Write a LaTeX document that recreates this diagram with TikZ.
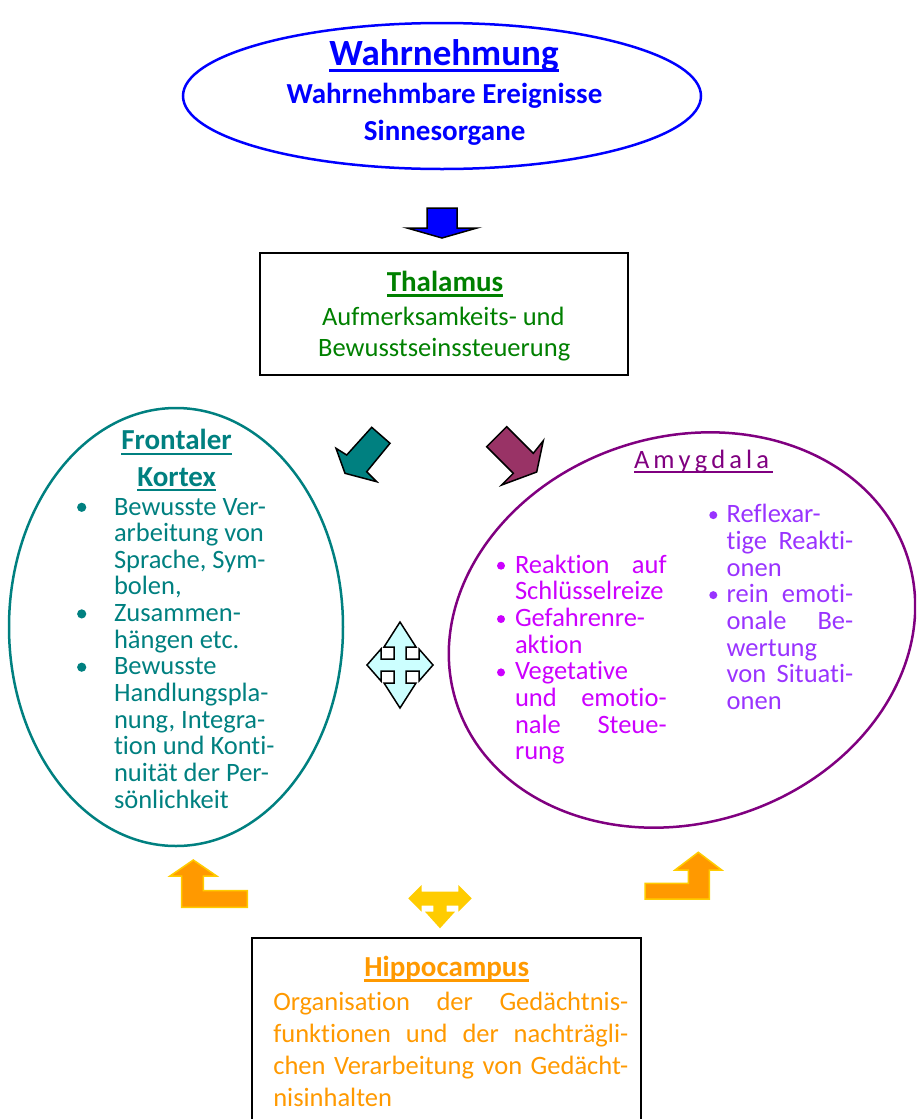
\documentclass[tikz,border=0pt]{standalone}
\usepackage{fontspec}
\setmainfont{Carlito}[Ligatures={NoCommon}]
\usetikzlibrary{shapes.geometric}
\definecolor{tealc}{RGB}{0,128,128}
\definecolor{purpc}{RGB}{128,0,128}
\definecolor{magc}{RGB}{204,0,255}
\definecolor{violc}{RGB}{153,51,255}
\definecolor{orangec}{RGB}{255,153,0}
\definecolor{goldc}{RGB}{255,204,0}
\definecolor{greenc}{RGB}{0,128,0}
\definecolor{bluec}{RGB}{0,0,255}
\definecolor{plumc}{RGB}{153,51,102}
\definecolor{cyanc}{RGB}{204,255,255}
\newcommand\ulx[3]{\setbox0\hbox{#3}\rlap{\rule[-#1]{\wd0}{#2}}\box0}
\newcommand\spc{\kern4.1pt}
\hbadness=10000
\begin{document}
\begin{tikzpicture}[x=1pt,y=-1pt,
  every node/.style={inner sep=0pt,outer sep=0pt},
  bodyfont/.style={font=\fontsize{26.5pt}{30pt}\selectfont},
  headtext/.style={anchor=base,font=\fontsize{29pt}{32pt}\selectfont\bfseries},
  linetext/.style={anchor=base west,bodyfont},
  blockarrow/.style={draw=black,line width=1.5pt,line join=miter},
  orangearrow/.style={draw=goldc,fill=orangec,line width=1.5pt,line join=miter}]
\useasboundingbox (0,0) rectangle (916,1119);
\clip (0,0) rectangle (916,1119);

% --- Wahrnehmung ---
\node[draw=bluec,line width=2.5pt,ellipse,minimum width=518pt,minimum height=146pt] (wahr) at (442,96) {};
\node[anchor=base,text=bluec,font=\fontsize{37pt}{40pt}\selectfont\bfseries] (wahrT) at (444,65) {\ulx{6.5pt}{3pt}{Wahrnehmung}};
\node[headtext,text=bluec] (wahr1) at (444.5,103.3) {Wahrnehmbare Ereignisse};
\node[headtext,text=bluec] (wahr2) at (444.7,140) {Sinnesorgane};

% blue arrow
\draw[blockarrow,fill=bluec] (427,208) -- (457,208) -- (457,228) -- (477,228) -- (442,238) -- (407,228) -- (427,228) -- cycle;

% --- Thalamus ---
\node[draw=black,line width=2pt,minimum width=367.7pt,minimum height=121.7pt] (thal) at (443.85,314.15) {};
\node[headtext,text=greenc] (thalT) at (445,291.7) {\ulx{5pt}{2.4pt}{Thalamus}};
\node[bodyfont,anchor=base,text=greenc] (thal1) at (443.3,325) {Aufmerksamkeits- und};
\node[bodyfont,anchor=base,text=greenc] (thal2) at (444.2,356.7) {Bewusstseinssteuerung};

% teal and plum arrows
\draw[blockarrow,fill=tealc] (336,448.3) -- (346.7,455) -- (371.7,427.3) -- (390,443.3) -- (366.7,471.7) -- (376.7,481.7) -- (345,473.3) -- cycle;
\draw[blockarrow,fill=plumc] (486.7,446.7) -- (506.7,426.7) -- (533.3,453.3) -- (543.3,440.7) -- (536.7,472) -- (501.7,485) -- (513.3,473.3) -- cycle;

% --- Frontaler Kortex ---
\node[draw=tealc,line width=2.5pt,ellipse,minimum width=334pt,minimum height=438pt] (fk) at (176,627) {};
\node[headtext,text=tealc] (fkT1) at (176.5,449.3) {\ulx{5.4pt}{2pt}{Frontaler}};
\node[headtext,text=tealc] (fkT2) at (176.7,486) {\ulx{5.4pt}{2pt}{Kortex}};
\foreach \t [count=\i] in {Bewusste Ver-,arbeitung von,{Sprache, Sym-},{bolen,},Zusammen-,hängen etc.,Bewusste,Handlungspla-,{nung, Integra-},tion und Konti-,nuität der Per-,sönlichkeit}
  \node[linetext,text=tealc] (fk-\i) at (114,{515+(\i-1)*26.65}) {\t};
\foreach \i in {1,5,7}
  \fill[tealc] (81.7,{515+(\i-1)*26.65-7.7}) circle (4.6);

% --- Amygdala ---
\draw[purpc,line width=2.5pt,rotate around={18:(682,630)}] (682,630) ellipse [x radius=237,y radius=193];
\coordinate (amc) at (682,630);
\node[anchor=base west,bodyfont,text=purpc] (amT) at (634,468.3) {\ulx{4.4pt}{2pt}{A\spc m\spc y\spc g\spc d\spc a\spc l\spc a\spc}};
\foreach \t [count=\i] in {Reaktion auf,Schlüsselreize,Gefahrenre-,aktion,Vegetative,und emotio-,nale Steue-,rung}
  \node[linetext,text=magc] (aml-\i) at (515,{573.3+(\i-1)*26.67}) {\makebox[151.7pt][s]{\t}};
\foreach \i in {1,3,5}
  \fill[magc] (501,{573.3+(\i-1)*26.67-7.6}) circle (4);
\foreach \t [count=\i] in {Reflexar-,tige Reakti-,onen,rein emoti-,onale Be-,wertung,von Situati-,onen}
  \node[linetext,text=violc] (amr-\i) at (726.7,{522.7+(\i-1)*26.67}) {\makebox[126.6pt][s]{\t}};
\foreach \i in {1,4}
  \fill[violc] (713.3,{522.7+(\i-1)*26.67-7.6}) circle (4);

% cross arrow
\draw[blockarrow,fill=cyanc,shift={(400,665)}]
  (0,-43) -- (-16,-18) -- (-6,-18) -- (-6,-6) -- (-19,-6) -- (-19,-16) -- (-33,0) -- (-19,16) -- (-19,6) -- (-6,6) -- (-6,18) -- (-16,18) -- (0,43) -- (16,18) -- (6,18) -- (6,6) -- (19,6) -- (19,16) -- (33,0) -- (19,-16) -- (19,-6) -- (6,-6) -- (6,-18) -- (16,-18) -- cycle;

% orange arrows
\draw[orangearrow] (193.3,860) -- (216.7,876) -- (203.3,876) -- (203.3,890.7) -- (247.3,890.7) -- (247.3,907.3) -- (181.7,907.3) -- (181.7,876) -- (170,876) -- cycle;
\draw[orangearrow] (698.3,852.3) -- (721.7,870) -- (709.3,870) -- (709.3,899) -- (645,899) -- (645,883.3) -- (688.3,883.3) -- (688.3,870) -- (675,870) -- cycle;
\fill[goldc] (408.3,898.3) -- (421.7,885) -- (421.7,891.7) -- (458.3,891.7) -- (458.3,885) -- (471.7,898.3) -- (458.3,911.7) -- (458.3,905.7) -- (446.7,905.7) -- (446.7,911.7) -- (455,911.7) -- (440,928.3) -- (425,911.7) -- (433.3,911.7) -- (433.3,905.7) -- (421.7,905.7) -- (421.7,911.7) -- cycle;

% --- Hippocampus ---
\draw[black,line width=2pt] (251.7,938.3) rectangle (640.7,1130);
\node[headtext,text=orangec] (hiT) at (446.7,976.7) {\ulx{5pt}{2.4pt}{Hippocampus}};
\foreach \t [count=\i] in {Organisation der Gedächtnis-,funktionen und der nachträgli-,chen Verarbeitung von Gedächt-,nisinhalten}
  \node[linetext,text=orangec] (hi-\i) at (273.3,{1010+(\i-1)*32.2}) {\makebox[355pt][s]{\t}};
\end{tikzpicture}
\end{document}
